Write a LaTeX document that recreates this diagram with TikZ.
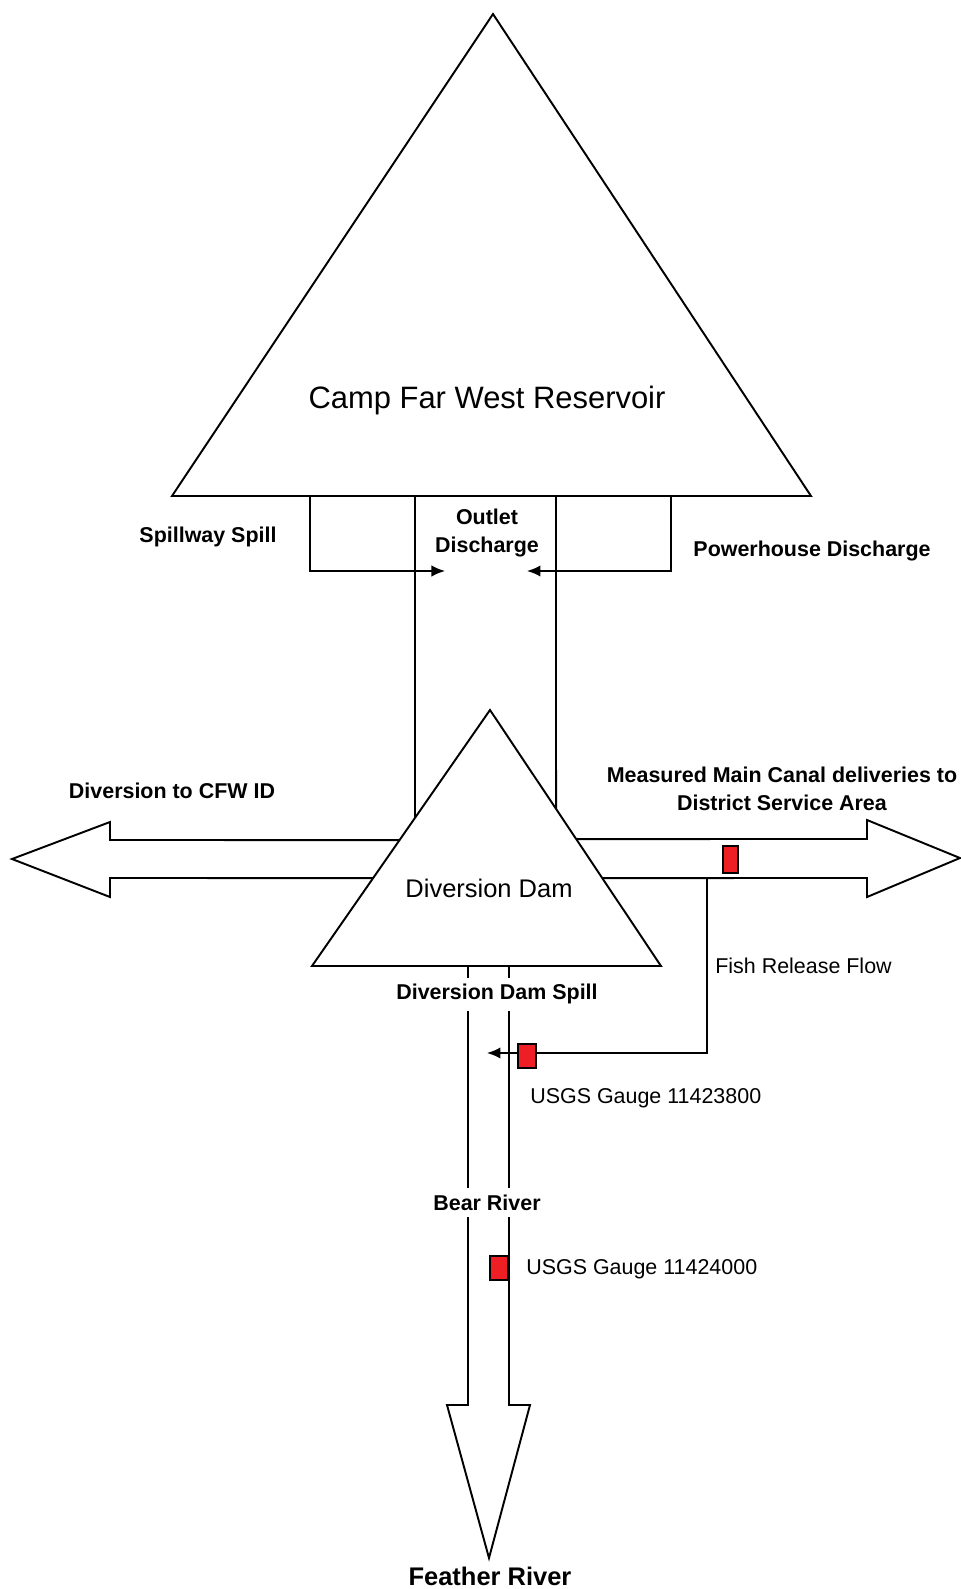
\documentclass[tikz,border=0pt]{standalone}
\usepackage{fontspec}
\setmainfont{Liberation Sans}
\usepackage{tikz}
\usetikzlibrary{arrows.meta,positioning}
\definecolor{gaugered}{RGB}{237,30,36}

\begin{document}
\begin{tikzpicture}[scale=0.2]
                    \tikzstyle{every node}+=[inner sep=0pt]
                    \tikzstyle{flow}=[black, line width=1.1pt, line join=miter]
                    \tikzstyle{tip}=[-{Latex[length=2.7mm,width=2.3mm]}]
                    \tikzstyle{lbl}=[font=\fontsize{12.2}{15.9}\selectfont\bfseries, align=center]
                    \tikzstyle{txt}=[font=\fontsize{12.2}{15.9}\selectfont]
                    \tikzstyle{gap}=[fill=white, inner ysep=0.13cm, inner xsep=2pt]
                    \tikzstyle{gauge}=[rectangle, draw=black, line width=0.6pt, fill=gaugered, minimum width=0.36cm, minimum height=0.48cm]
                    \useasboundingbox (0,0) rectangle (96.1,-158.9);
                    % reservoir
                    \coordinate (resTop) at (49.3,-1.4);
                    \coordinate (resL) at (17.2,-49.6);
                    \coordinate (resR) at (81.1,-49.6);
                    \draw [flow] (resTop) -- (resL) -- (resR) -- cycle;
                    \node [font=\fontsize{17.6}{21}\selectfont] (res) at (48.7,-40.0) {Camp Far West Reservoir};
                    % diversion dam
                    \coordinate (damTop) at (49.0,-71.0);
                    \coordinate (damL) at (31.2,-96.6);
                    \coordinate (damR) at (66.1,-96.6);
                    \draw [flow] (damTop) -- (damL) -- (damR) -- cycle;
                    \node [font=\fontsize{14.5}{17}\selectfont] (dam) at (48.9,-88.8) {Diversion Dam};
                    % releases from the reservoir
                    \coordinate (spillA) at (31.0,-49.6);
                    \coordinate (spillB) at (44.5,-57.1);
                    \draw [flow,tip] (spillA) |- (spillB);
                    \coordinate (powA) at (67.1,-49.6);
                    \coordinate (powB) at (52.7,-57.1);
                    \draw [flow,tip] (powA) |- (powB);
                    \coordinate (outL) at (41.5,-49.6);
                    \coordinate (outR) at (55.6,-49.6);
                    \draw [flow] (outL) -- (intersection of 41.5,-49.6--41.5,-90 and damTop--damL);
                    \draw [flow] (outR) -- (intersection of 55.6,-49.6--55.6,-90 and damTop--damR);
                    \node [lbl] (spillway) at (20.8,-53.7) {Spillway Spill};
                    \node [lbl] (outlet) at (48.7,-53.3) {Outlet\\Discharge};
                    \node [lbl] (power) at (81.2,-55.1) {Powerhouse Discharge};
                    % diversion to the left
                    \draw [flow] (intersection of 0,-84.0--10,-84.0 and damTop--damL) -- (11.0,-84.0) -- (11.0,-82.2)
                        -- (1.2,-85.9) -- (11.0,-89.7) -- (11.0,-87.8) -- (intersection of 0,-87.8--10,-87.8 and damTop--damL);
                    \node [lbl] (cfw) at (17.2,-79.1) {Diversion to CFW ID};
                    % main canal to the right
                    \draw [flow] (intersection of 80,-83.9--90,-83.9 and damTop--damR) -- (86.7,-83.9) -- (86.7,-82.0)
                        -- (96.0,-85.8) -- (86.7,-89.7) -- (86.7,-87.8) -- (intersection of 80,-87.8--90,-87.8 and damTop--damR);
                    \node [lbl] (canal) at (78.2,-78.9) {Measured Main Canal deliveries to\\District Service Area};
                    \node [gauge, minimum width=0.3cm, minimum height=0.54cm] (g0) at (73.05,-85.95) {};
                    % fish release
                    \coordinate (fishA) at (70.7,-87.8);
                    \coordinate (fishB) at (48.7,-105.3);
                    \draw [flow,tip] (fishA) |- (fishB);
                    \node [txt, anchor=west] (fish) at (71.5,-96.6) {Fish Release Flow};
                    % bear river to feather river
                    \draw [flow] (46.8,-96.6) -- (46.8,-140.5) -- (44.7,-140.5) -- (48.9,-155.8)
                        -- (53.0,-140.5) -- (50.9,-140.5) -- (50.9,-96.6);
                    \node [lbl, gap] (ddspill) at (49.7,-99.4) {Diversion Dam Spill};
                    \node [lbl, gap] (bear) at (48.7,-120.25) {Bear River};
                    \node [gauge] (g1) at (52.7,-105.6) {};
                    \node [txt, anchor=west] (g1lbl) at (53.0,-109.8) {USGS Gauge 11423800};
                    \node [gauge] (g2) at (49.9,-126.8) {};
                    \node [txt, anchor=west] (g2lbl) at (52.6,-126.9) {USGS Gauge 11424000};
                    \node [font=\fontsize{14.5}{17}\selectfont\bfseries] (feather) at (49.0,-157.6) {Feather River};
                \end{tikzpicture}
\end{document}
